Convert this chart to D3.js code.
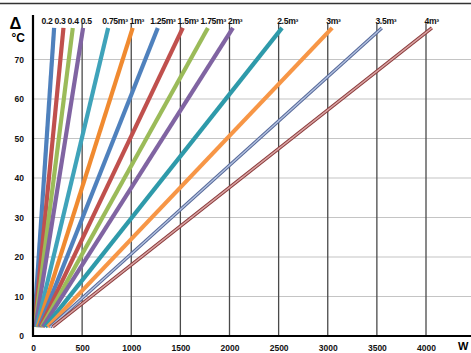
<!DOCTYPE html>
<html>
<head>
<meta charset="utf-8">
<script src="https://cdn.jsdelivr.net/npm/d3@7"></script>
<style>
  html, body { margin: 0; padding: 0; background: #fff; }
  svg { display: block; font-family: "Liberation Sans", Arial, sans-serif; }
</style>
</head>
<body>
<svg id="chart" width="471" height="353"></svg>
<script>
// Series: heater size and its straight ΔT–W line (start and end points)
const sizes     = [0.2, 0.3, 0.4, 0.5, 0.75, 1, 1.25, 1.5, 1.75, 2, 2.5, 3, 3.5, 4];
const sizeLabels = ["0.2", "0.3", "0.4", "0.5", "0.75m³", "1m³", "1.25m³", "1.5m³",
                    "1.75m³", "2m³", "2.5m³", "3m³", "3.5m³", "4m³"];
const startW    = [10, 15, 20, 25, 38, 50, 63, 75, 88, 100, 125, 150, 175, 200];
const endW      = [215, 310, 405, 510, 765, 1015, 1270, 1525, 1780, 2035, 2535, 3045, 3550, 4060];
const startDT   = 2.3;
const endDT     = 78;

// Axis ticks
const xTicks = [0, 500, 1000, 1500, 2000, 2500, 3000, 3500, 4000];
const yTicks = [0, 10, 20, 30, 40, 50, 60, 70];

// Line colours (last two are drawn as an outlined stroke)
const strokeColors = ["#4F81BD", "#C0504D", "#9BBB59", "#8064A2", "#3FA3BA", "#F08A30",
                      "#4F81BD", "#C0504D", "#9BBB59", "#8064A2", "#2E9AAA", "#F79646",
                      "#56699A", "#8A3A3A"];
const innerColors  = {12: "#B4C2E0", 13: "#D9A3A3"};

const svg = d3.select("#chart");

const x = d3.scaleLinear().domain([0, 4000]).range([33, 426]);
const y = d3.scaleLinear().domain([0, 70]).range([336, 59.5]);
const yTop = 23;

// top rule
svg.append("line")
  .attr("x1", 0).attr("x2", 471).attr("y1", 3.5).attr("y2", 3.5)
  .attr("stroke", "#333").attr("stroke-width", 1.6);

// horizontal grid
svg.append("g")
  .selectAll("line")
  .data(yTicks.filter(d => d > 0))
  .join("line")
  .attr("x1", x(0)).attr("x2", 471)
  .attr("y1", d => y(d)).attr("y2", d => y(d))
  .attr("stroke", "#c4c4c4").attr("stroke-width", 1.2);

// vertical grid
svg.append("g")
  .selectAll("line")
  .data(xTicks.filter(d => d > 0))
  .join("line")
  .attr("x1", d => x(d)).attr("x2", d => x(d))
  .attr("y1", yTop).attr("y2", y(0))
  .attr("stroke", "#4a4a4a").attr("stroke-width", 1.3);

// series lines
const lineGen = d3.line().x(d => x(d[0])).y(d => y(d[1]));
const series = sizes.map((s, i) => ({
  i,
  pts: [[startW[i], startDT], [endW[i], endDT]]
}));

const gLines = svg.append("g");
series.forEach(s => {
  const outlined = innerColors[s.i] !== undefined;
  gLines.append("path")
    .attr("d", lineGen(s.pts))
    .attr("fill", "none")
    .attr("stroke", strokeColors[s.i])
    .attr("stroke-width", outlined ? 3.4 : 4.2);
  if (outlined) {
    gLines.append("path")
      .attr("d", lineGen(s.pts))
      .attr("fill", "none")
      .attr("stroke", innerColors[s.i])
      .attr("stroke-width", 1.4);
  }
});

// axes
const xAxis = svg.append("g")
  .attr("transform", `translate(0,${y(0)})`)
  .call(d3.axisBottom(x).tickValues(xTicks).tickSize(0).tickPadding(9)
    .tickFormat(d3.format("d")));
xAxis.select(".domain").remove();
xAxis.selectAll("text")
  .attr("font-size", 8.5).attr("font-weight", "bold").attr("fill", "#111")
  .attr("font-family", "Liberation Sans, Arial, sans-serif");

const yAxis = svg.append("g")
  .attr("transform", `translate(${x(0)},0)`)
  .call(d3.axisLeft(y).tickValues(yTicks).tickSize(0).tickPadding(9)
    .tickFormat(d3.format("d")));
yAxis.select(".domain").remove();
yAxis.selectAll("text")
  .attr("font-size", 8.5).attr("font-weight", "bold").attr("fill", "#111")
  .attr("font-family", "Liberation Sans, Arial, sans-serif");

// axis lines
svg.append("line")
  .attr("x1", x(0) - 1).attr("x2", 471).attr("y1", y(0)).attr("y2", y(0))
  .attr("stroke", "#000").attr("stroke-width", 2.2);
svg.append("line")
  .attr("x1", x(0)).attr("x2", x(0)).attr("y1", 15).attr("y2", y(0) + 1)
  .attr("stroke", "#000").attr("stroke-width", 2.2);

// axis titles
svg.append("text")
  .attr("x", 9.5).attr("y", 28.5)
  .attr("font-size", 16.5).attr("font-weight", "bold").attr("fill", "#000")
  .text("Δ");
svg.append("text")
  .attr("x", 11.5).attr("y", 41.5)
  .attr("font-size", 12).attr("font-weight", "bold").attr("fill", "#000")
  .text("°C");
svg.append("text")
  .attr("x", 458).attr("y", 349.5)
  .attr("font-size", 11).attr("font-weight", "bold").attr("fill", "#000")
  .text("W");

// series labels along the top, pushed left where they would collide
const gLab = svg.append("g")
  .attr("font-size", 8.6).attr("font-weight", "bold").attr("fill", "#111")
  .attr("letter-spacing", -0.3);
const labs = sizes.map((s, i) => gLab.append("text")
  .attr("y", 24)
  .text(sizeLabels[i]));
const widths = labs.map(t => t.node().getComputedTextLength());
const xs = sizes.map(s => x(s * 1000) - 1.5);
for (let i = xs.length - 2; i >= 0; i--) {
  xs[i] = Math.min(xs[i], xs[i + 1] - widths[i] - 2);
}
labs.forEach((t, i) => t.attr("x", xs[i]));
</script>
</body>
</html>
